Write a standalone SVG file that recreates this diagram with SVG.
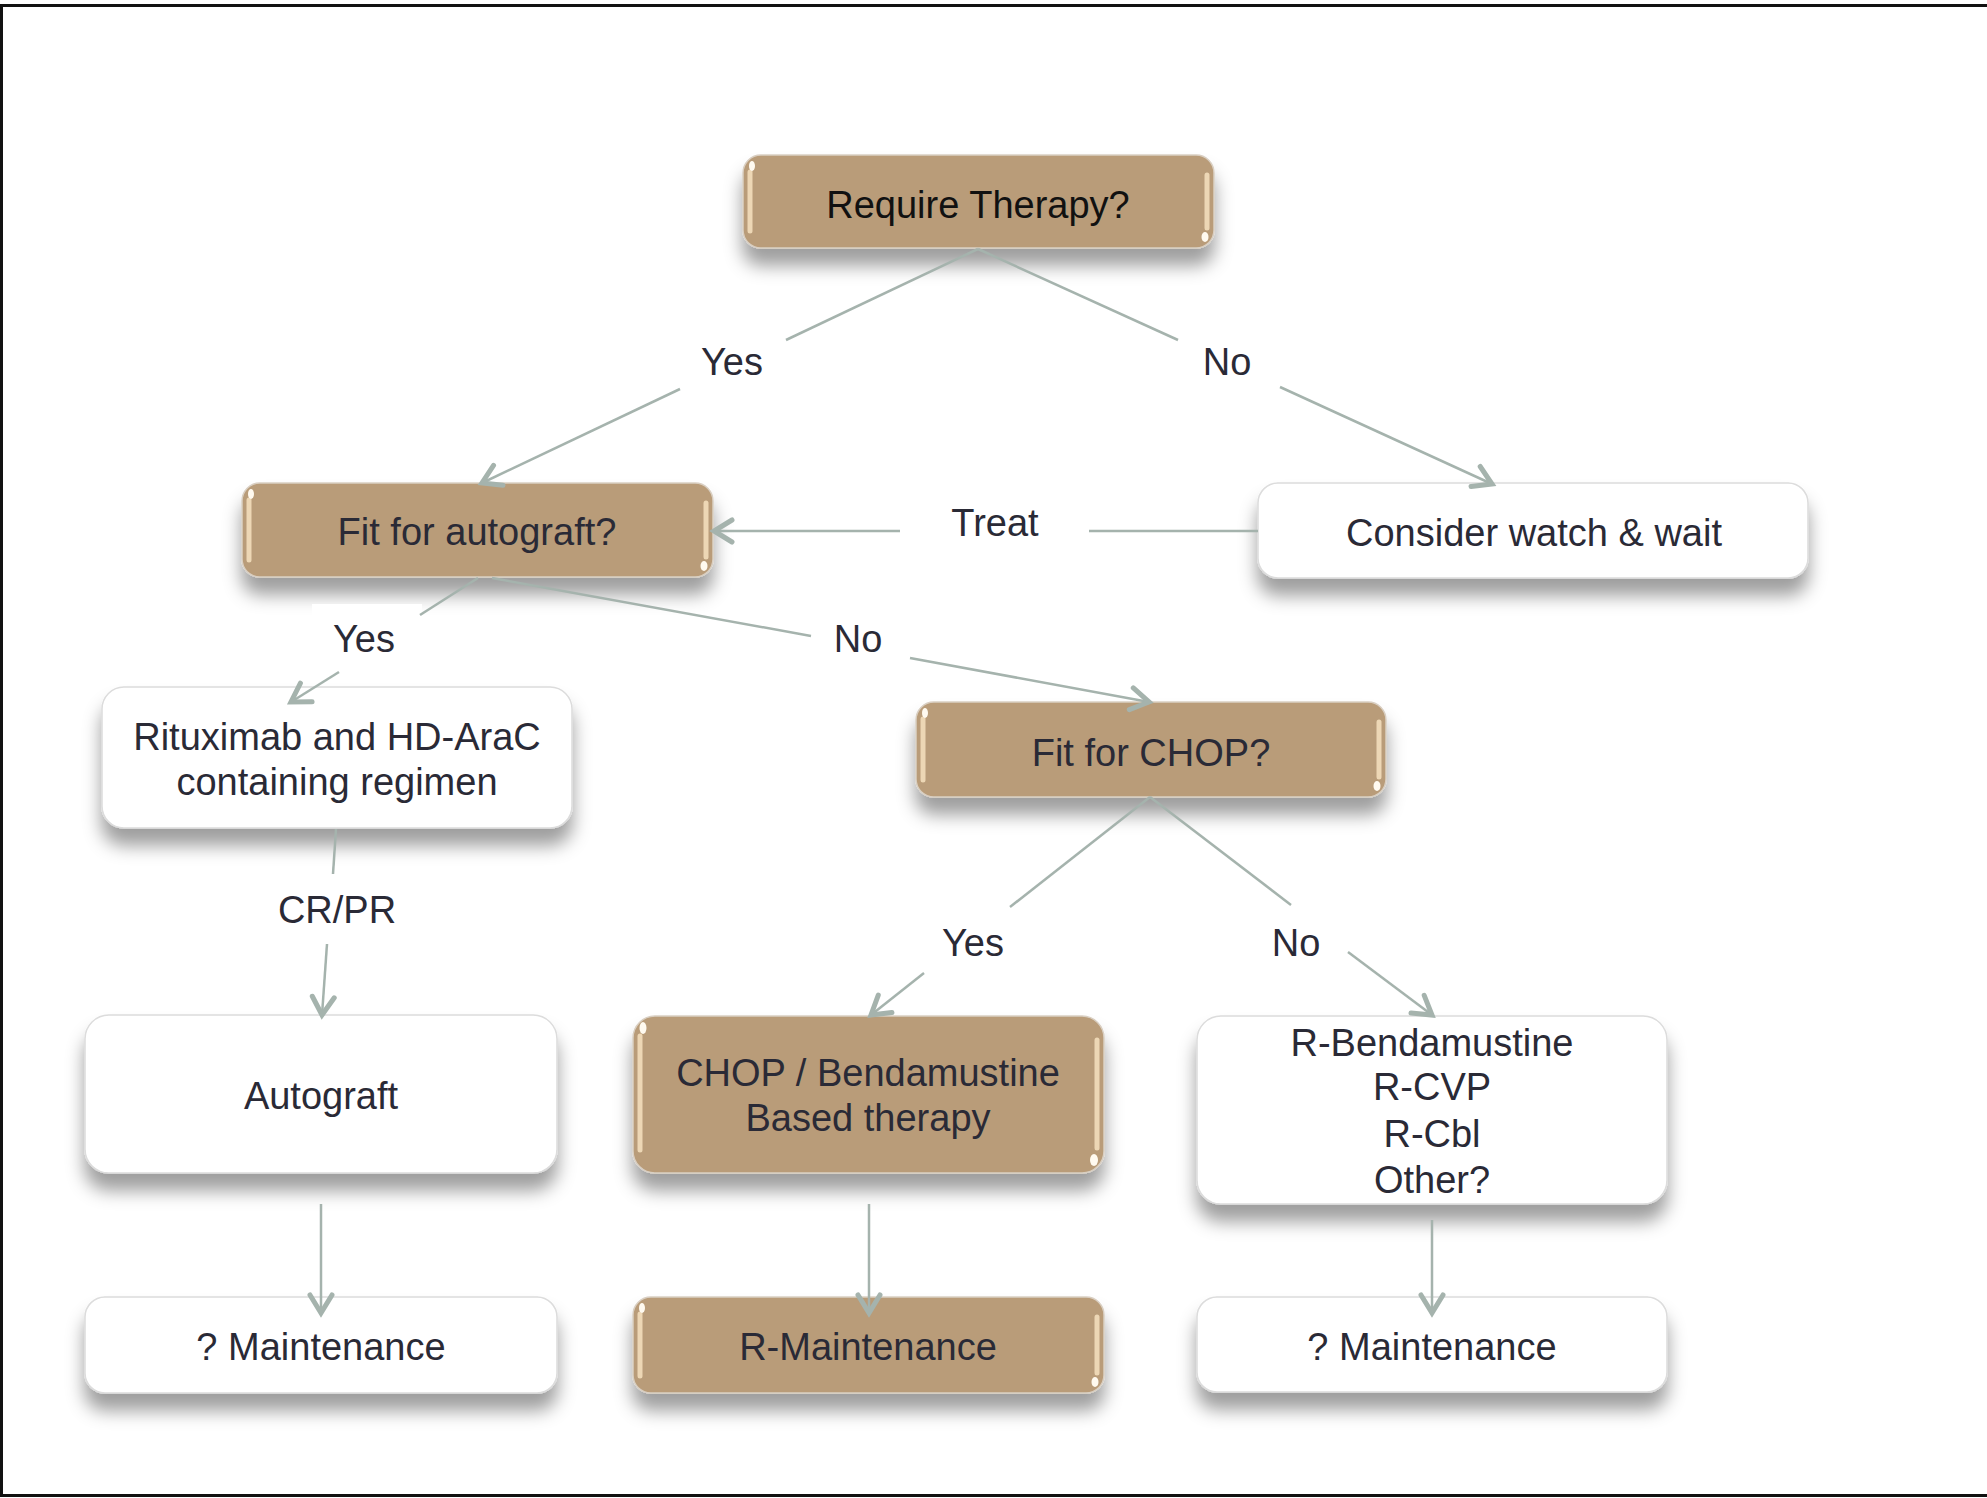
<svg xmlns="http://www.w3.org/2000/svg" width="1987" height="1498" viewBox="0 0 1987 1498">
<defs>
<style>
.tan{fill:#b99c79;stroke:#d9cfc2;stroke-width:1.5}
.wht{fill:#ffffff;stroke:#dcdcdc;stroke-width:1.5}
.hl{stroke:#f6e2bf;stroke-width:5;stroke-linecap:round;fill:none;opacity:0.85}
.dot{fill:#fffaf0}
.t{font-family:"Liberation Sans",Arial,sans-serif;font-size:38px;fill:#2a2a36;text-anchor:middle}
.k{fill:#111111}
.c{stroke:#a5b3ad;stroke-width:2.5;fill:none}
.a{marker-end:url(#arr)}
</style>
<filter id="sh" x="-20%" y="-30%" width="140%" height="190%">
<feDropShadow dx="0" dy="17" stdDeviation="9" flood-color="#000000" flood-opacity="0.38"/>
</filter>
<marker id="arr" markerUnits="userSpaceOnUse" viewBox="0 0 26 28" markerWidth="26" markerHeight="28" refX="21" refY="14" orient="auto">
<path d="M3,3 L21,14 L3,25" fill="none" stroke="#a5b3ad" stroke-width="5" stroke-linecap="round" stroke-linejoin="miter"/>
</marker>
</defs>
<rect x="0" y="0" width="1987" height="1498" fill="#ffffff"/>
<path d="M1987,5.5 H1.5 V1495.5 H1987" fill="none" stroke="#111111" stroke-width="3"/>

<g id="n-require">
<rect class="tan" filter="url(#sh)" x="743" y="155" width="471" height="93" rx="18"/>
<line class="hl" x1="750" y1="172" x2="750" y2="231"/>
<line class="hl" x1="1207" y1="175" x2="1207" y2="228"/>
<ellipse class="dot" cx="752" cy="166" rx="3" ry="5"/>
<ellipse class="dot" cx="1205" cy="237" rx="3.5" ry="5"/>
<text class="t k" x="978" y="218">Require Therapy?</text>
</g>

<g id="n-watch">
<rect class="wht" filter="url(#sh)" x="1258" y="483" width="550" height="95" rx="20"/>
<text class="t" x="1534" y="546">Consider watch &amp; wait</text>
</g>

<g id="n-autograft-q">
<rect class="tan" filter="url(#sh)" x="242" y="483" width="471" height="94" rx="18"/>
<line class="hl" x1="249" y1="500" x2="249" y2="560"/>
<line class="hl" x1="706" y1="503" x2="706" y2="557"/>
<ellipse class="dot" cx="251" cy="494" rx="3" ry="5"/>
<ellipse class="dot" cx="704" cy="566" rx="3.5" ry="5"/>
<text class="t" x="477" y="545">Fit for autograft?</text>
</g>

<rect x="312" y="604" width="110" height="66" fill="#ffffff"/>

<g id="n-rituximab">
<rect class="wht" filter="url(#sh)" x="102" y="687" width="470" height="141" rx="22"/>
<text class="t" x="337" y="750">Rituximab and HD-AraC</text>
<text class="t" x="337" y="795">containing regimen</text>
</g>

<g id="n-chop-q">
<rect class="tan" filter="url(#sh)" x="916" y="702" width="470" height="95" rx="18"/>
<line class="hl" x1="923" y1="719" x2="923" y2="780"/>
<line class="hl" x1="1379" y1="722" x2="1379" y2="777"/>
<ellipse class="dot" cx="925" cy="713" rx="3" ry="5"/>
<ellipse class="dot" cx="1377" cy="786" rx="3.5" ry="5"/>
<text class="t" x="1151" y="766">Fit for CHOP?</text>
</g>

<g id="n-autograft">
<rect class="wht" filter="url(#sh)" x="85" y="1015" width="472" height="158" rx="24"/>
<text class="t" x="321" y="1109">Autograft</text>
</g>

<g id="n-chop">
<rect class="tan" filter="url(#sh)" x="633" y="1016" width="471" height="157" rx="22"/>
<line class="hl" x1="640" y1="1036" x2="640" y2="1150"/>
<line class="hl" x1="1097" y1="1040" x2="1097" y2="1148"/>
<ellipse class="dot" cx="643" cy="1028" rx="3.5" ry="6"/>
<ellipse class="dot" cx="1094" cy="1160" rx="4" ry="6"/>
<text class="t" x="868" y="1086">CHOP / Bendamustine</text>
<text class="t" x="868" y="1131">Based therapy</text>
</g>

<g id="n-rbend">
<rect class="wht" filter="url(#sh)" x="1197" y="1016" width="470" height="188" rx="24"/>
<text class="t" x="1432" y="1056">R-Bendamustine</text>
<text class="t" x="1432" y="1100">R-CVP</text>
<text class="t" x="1432" y="1147">R-Cbl</text>
<text class="t" x="1432" y="1193">Other?</text>
</g>

<g id="n-maint-left">
<rect class="wht" filter="url(#sh)" x="85" y="1297" width="472" height="96" rx="20"/>
<text class="t" x="321" y="1360">? Maintenance</text>
</g>

<g id="n-rmaint">
<rect class="tan" filter="url(#sh)" x="633" y="1297" width="471" height="96" rx="18"/>
<line class="hl" x1="640" y1="1314" x2="640" y2="1376"/>
<line class="hl" x1="1097" y1="1317" x2="1097" y2="1373"/>
<ellipse class="dot" cx="642" cy="1308" rx="3" ry="5"/>
<ellipse class="dot" cx="1095" cy="1382" rx="3.5" ry="5"/>
<text class="t" x="868" y="1360">R-Maintenance</text>
</g>

<g id="n-maint-right">
<rect class="wht" filter="url(#sh)" x="1197" y="1297" width="470" height="95" rx="20"/>
<text class="t" x="1432" y="1360">? Maintenance</text>
</g>

<g id="connectors">
<line class="c" x1="978" y1="249" x2="786" y2="340"/>
<line class="c a" x1="680" y1="389" x2="482" y2="483"/>
<line class="c" x1="978" y1="249" x2="1178" y2="340"/>
<line class="c a" x1="1280" y1="387" x2="1492" y2="484"/>
<line class="c" x1="1258" y1="531" x2="1089" y2="531"/>
<line class="c a" x1="900" y1="531" x2="714" y2="531"/>
<line class="c" x1="478" y1="578" x2="420" y2="615"/>
<line class="c a" x1="339" y1="672" x2="291" y2="702"/>
<line class="c" x1="492" y1="578" x2="811" y2="636"/>
<line class="c a" x1="910" y1="658" x2="1149" y2="702"/>
<line class="c" x1="1150" y1="797" x2="1010" y2="907"/>
<line class="c a" x1="924" y1="973" x2="871" y2="1015"/>
<line class="c" x1="1150" y1="797" x2="1291" y2="905"/>
<line class="c a" x1="1348" y1="952" x2="1432" y2="1015"/>
<line class="c" x1="336" y1="829" x2="333" y2="874"/>
<line class="c a" x1="327" y1="944" x2="322" y2="1015"/>
<line class="c a" x1="321" y1="1204" x2="321" y2="1313"/>
<line class="c a" x1="869" y1="1204" x2="869" y2="1313"/>
<line class="c a" x1="1432" y1="1220" x2="1432" y2="1313"/>
<text class="t" x="732" y="375">Yes</text>
<text class="t" x="1227" y="375">No</text>
<text class="t" x="995" y="536">Treat</text>
<text class="t" x="364" y="652">Yes</text>
<text class="t" x="858" y="652">No</text>
<text class="t" x="973" y="956">Yes</text>
<text class="t" x="1296" y="956">No</text>
<text class="t" x="337" y="923">CR/PR</text>
</g>
</svg>
